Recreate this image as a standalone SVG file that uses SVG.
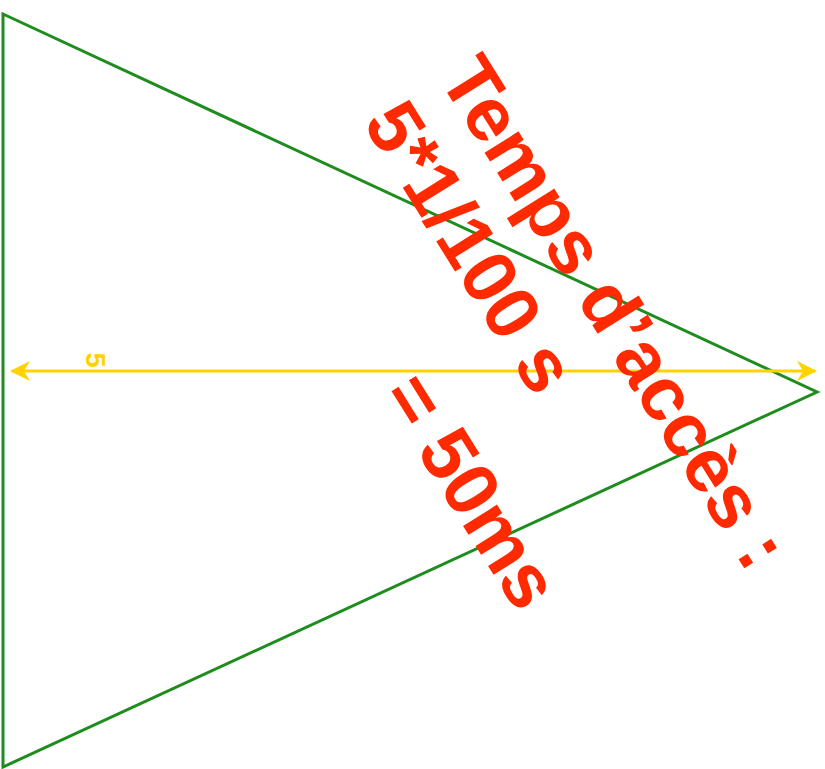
<svg xmlns="http://www.w3.org/2000/svg" width="825" height="769" viewBox="0 0 825 769">
<style>
.shape{fill:none;stroke:#1e8c1e;stroke-width:3;stroke-linejoin:miter}
.dim{stroke:#ffd200;stroke-width:3;fill:none}
.red{font-family:"Liberation Sans",Arial,sans-serif;font-weight:bold;font-size:76px;fill:#ff2a00}
.lab{font-family:"Liberation Sans",Arial,sans-serif;font-weight:bold;font-size:27px;fill:#ffd200}
</style>
<defs>
<marker id="ah" viewBox="0 0 20 20" refX="18" refY="10" markerWidth="20" markerHeight="20" markerUnits="userSpaceOnUse" orient="auto-start-reverse">
<path d="M0,0 L20,10 L0,20 L6,10 Z" fill="#ffd200"/>
</marker>
</defs>
<rect width="825" height="769" fill="#fff"/>
<g id="triangle">
<path class="shape" d="M3,14 L817,392 L3,767 Z"/>
</g>
<g id="connectors">
<line class="dim" x1="12" y1="371" x2="815" y2="371" marker-start="url(#ah)" marker-end="url(#ah)"/>
<text class="lab" transform="translate(86,360) rotate(90)" text-anchor="middle">5</text>
</g>
<g id="label" transform="rotate(58)">
<text class="red" x="298" y="-330">Temps d’accès :</text>
<text class="red" x="296" y="-242">5*1/100 s</text>
<text class="red" x="536" y="-114">= 50ms</text>
</g>
</svg>
